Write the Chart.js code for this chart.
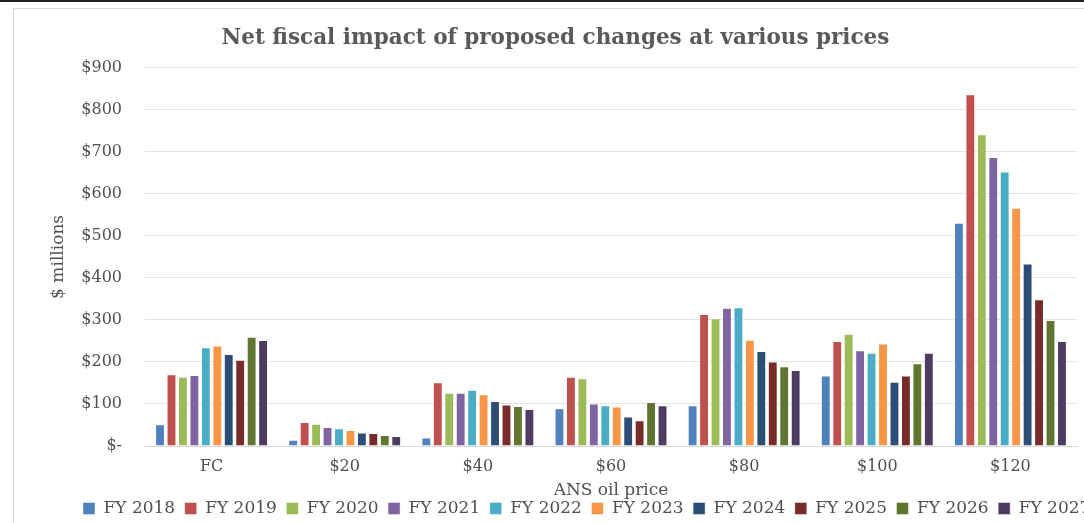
<!DOCTYPE html>
<html lang="en">
<head>
    <meta charset="UTF-8">
    <title>Net fiscal impact</title>
    <script src="https://cdn.jsdelivr.net/npm/chart.js"></script>
    <style>
        body { margin: 0; background: #fff; overflow: hidden; width: 1084px; height: 523px; position: relative; }
        .topline { position: absolute; left: 0; top: 0; width: 1084px; height: 2px; background: #1e1e1e; }
        .frame { position: absolute; left: 13px; top: 8px; width: 1200px; height: 600px; border-left: 1px solid #d9d9d9; border-top: 1px solid #d9d9d9; }
        #chart { position: absolute; left: 14px; top: 9px; }
    </style>
</head>
<body>
    <div class="topline"></div>
    <div class="frame"></div>
    <canvas id="chart" width="1140" height="518"></canvas>
<script>

// oil price scenarios
let categories = ['FC', '$20', '$40', '$60', '$80', '$100', '$120'];

let seriesNames = ['FY 2018', 'FY 2019', 'FY 2020', 'FY 2021', 'FY 2022', 'FY 2023', 'FY 2024', 'FY 2025', 'FY 2026', 'FY 2027'];

// $ millions, one array per fiscal year (FC, $20, $40, $60, $80, $100, $120)
let fy2018 = [52, 15, 20, 90, 97, 168, 531];
let fy2019 = [171, 57, 152, 165, 314, 250, 837];
let fy2020 = [165, 53, 127, 161, 304, 267, 742];
let fy2021 = [169, 45, 127, 101, 329, 228, 688];
let fy2022 = [235, 42, 134, 97, 330, 222, 653];
let fy2023 = [239, 38, 123, 94, 253, 244, 567];
let fy2024 = [219, 32, 107, 70, 226, 153, 434];
let fy2025 = [205, 31, 99, 61, 201, 168, 349];
let fy2026 = [260, 26, 95, 105, 190, 197, 300];
let fy2027 = [252, 24, 88, 97, 181, 222, 250];

let yTicks = [0, 100, 200, 300, 400, 500, 600, 700, 800, 900];

let colors = ['#4f81bd', '#c0504d', '#9bbb59', '#8064a2', '#4bacc6', '#f79646', '#2c4d75', '#772c2a', '#5f7530', '#4d3b62'];

let allSeries = [fy2018, fy2019, fy2020, fy2021, fy2022, fy2023, fy2024, fy2025, fy2026, fy2027];

let serif = "'DejaVu Serif', serif";
let grey = '#505050';

let datasets = allSeries.map((vals, i) => ({
    label: seriesNames[i],
    data: vals,
    backgroundColor: colors[i],
    borderColor: 'rgba(255,255,255,0.45)',
    borderWidth: 1,
    categoryPercentage: 0.86,
    barPercentage: 0.86
}));

// move the legend row so it starts where the original one does
let legendStart = {
    id: 'legendStart',
    afterLayout(chart) {
        let lg = chart.legend;
        let w = lg.width;
        lg.left = 69 - lg.options.labels.padding;
        lg.right = lg.left + w;
    }
};

new Chart(document.getElementById('chart').getContext('2d'), {
    type: 'bar',
    data: { labels: categories, datasets: datasets },
    options: {
        responsive: false,
        animation: false,
        layout: { padding: { left: 20, right: 77, top: 0, bottom: 0 } },
        scales: {
            x: {
                grid: { display: false, drawTicks: false },
                border: { color: '#d9d9d9' },
                ticks: { color: grey, padding: 11, font: { family: serif, size: 16 } },
                title: {
                    display: true, text: 'ANS oil price', color: grey,
                    font: { family: serif, size: 17 },
                    padding: { top: 0, bottom: -10.7 }
                },
                afterFit(scale) { scale.height = 44.5; }
            },
            y: {
                min: 0,
                max: 900,
                afterBuildTicks(scale) { scale.ticks = yTicks.map(v => ({ value: v })); },
                grid: { color: '#e4e4e4', drawTicks: false },
                border: { display: false },
                ticks: {
                    color: grey, padding: 23, font: { family: serif, size: 16 },
                    callback: v => v === 0 ? '$-' : '$' + v
                },
                title: {
                    display: true, text: '$ millions', color: grey,
                    font: { family: serif, size: 17 },
                    padding: { top: 14, bottom: 0 }
                },
                afterFit(scale) { scale.width = 111; }
            }
        },
        plugins: {
            title: {
                display: true,
                text: 'Net fiscal impact of proposed changes at various prices',
                color: '#595959',
                font: { family: serif, size: 21.5, weight: 'bold' },
                padding: { top: 17, bottom: 16 }
            },
            legend: {
                position: 'bottom',
                align: 'start',
                labels: {
                    color: grey, boxWidth: 12, boxHeight: 12, padding: 9.5,
                    font: { family: serif, size: 17 }
                }
            },
            tooltip: { enabled: false }
        }
    },
    plugins: [legendStart]
});

</script>
</body>
</html>
